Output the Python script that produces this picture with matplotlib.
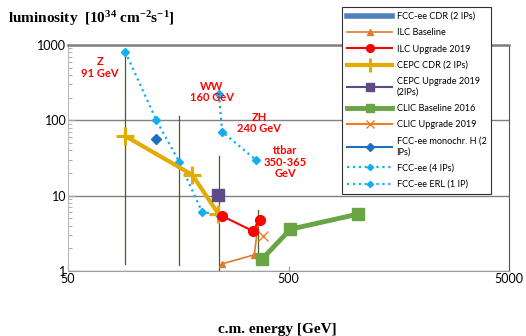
import matplotlib
matplotlib.use("Agg")
import matplotlib.pyplot as plt
from matplotlib.ticker import FixedLocator, NullFormatter, LogLocator, NullLocator

plt.rcParams['font.family'] = ['Lato', 'DejaVu Sans']
plt.rcParams['mathtext.default'] = 'regular'

# energies in GeV, luminosity in 1e34 cm^-2 s^-1
fcc_cdr_e = []
fcc_cdr_l = []
ilc_base_e = [250, 350, 365]
ilc_base_l = [1.25, 1.65, 4.5]
ilc_upg_e = [250, 345, 370]
ilc_upg_l = [5.4, 3.4, 4.8]
cepc_e = [91, 183, 240]
cepc_l = [62, 19, 5.8]
cepc_upg_e = [240]
cepc_upg_l = [10.2]
clic_base_e = [380, 510, 1030]
clic_base_l = [1.45, 3.6, 5.7]
clic_upg_e = [385]
clic_upg_l = [2.9]
fcc_h_e = [126]
fcc_h_l = [56]
fcc4_e = [91, 126, 160, 203, 243]
fcc4_l = [815, 100, 28, 6.1, 5.5]
erl_e = [242, 250, 355]
erl_l = [222, 71, 30]

# energy marker lines: energy, top, bottom
vline_e = [91, 160, 243, 365]
vline_top = [800, 114, 34, 6.4]
vline_bot = [1.25, 1.2, 1.0, 1.2]

labels = ['Z\n91 GeV', 'WW\n160 GeV', 'ZH\n240 GeV', 'ttbar\n350-365\nGeV']
label_e = [70, 224, 369, 484]
label_l = [500, 238, 92, 28]

fig = plt.figure(figsize=(5.26, 3.36), dpi=100)
ax = fig.add_axes([0.129, 0.193, 0.839, 0.673])
ax.set_xscale('log')
ax.set_yscale('log')
ax.set_xlim(50, 5000)
ax.set_ylim(1, 1000)

for e, t, b in zip(vline_e, vline_top, vline_bot):
    ax.plot([e, e], [b, t], color='#44612a', lw=0.9, zorder=2)

ax.plot(fcc_cdr_e, fcc_cdr_l, color='#4f81bd', lw=4, label='FCC-ee CDR (2 IPs)')
ax.plot(ilc_base_e, ilc_base_l, color='#e07a30', lw=1.2, marker='^', ms=5,
        label='ILC Baseline', zorder=4)
ax.plot(ilc_upg_e, ilc_upg_l, color='red', lw=1.5, marker='o', ms=7,
        label='ILC Upgrade 2019', zorder=5)
ax.plot(cepc_e, cepc_l, color='#e3ac00', lw=3, marker='+', ms=13, mew=2.2,
        label='CEPC CDR (2 IPs)', zorder=4)
ax.plot(cepc_upg_e, cepc_upg_l, color='#5d4a86', lw=1.5, marker='s', ms=8,
        label='CEPC Upgrade 2019\n(2IPs)', zorder=5)
ax.plot(clic_base_e, clic_base_l, color='#6aa545', lw=3.5, marker='s', ms=8,
        label='CLIC Baseline 2016', zorder=4)
ax.plot(clic_upg_e, clic_upg_l, color='#f07c28', lw=1.5, marker='x', ms=7, mew=1,
        label='CLIC Upgrade 2019', zorder=4)
ax.plot(fcc_h_e, fcc_h_l, color='#1f6fc0', lw=1.5, marker='D', ms=5,
        label='FCC-ee monochr. H (2\nIPs)', zorder=4)
ax.plot(fcc4_e, fcc4_l, color='#13aef0', lw=1.6, ls=':', marker='D', ms=4,
        label='FCC-ee (4 IPs)', zorder=3)
ax.plot(erl_e, erl_l, color='#13aef0', lw=1.6, ls=':', marker='D', ms=4,
        label='FCC-ee ERL (1 IP)', zorder=3)

for t, e, l in zip(labels, label_e, label_l):
    ax.text(e, l, t, color='red', fontsize=8, fontweight='bold', ha='center',
            va='center', linespacing=1.05)

ax.yaxis.grid(True, which='major', color='#808080', lw=1)
ax.set_axisbelow(True)
ax.xaxis.set_major_locator(FixedLocator([50, 500, 5000]))
ax.xaxis.set_minor_locator(NullLocator())
ax.set_xticklabels(['50', '500', '5000'])
ax.yaxis.set_major_locator(FixedLocator([1, 10, 100, 1000]))
ax.yaxis.set_minor_locator(LogLocator(base=10, subs=range(2, 10)))
ax.yaxis.set_minor_formatter(NullFormatter())
ax.set_yticklabels(['1', '10', '100', '1000'])
ax.tick_params(axis='both', which='both', direction='in', colors='#a0a0a0',
               labelcolor='black', labelsize=9, pad=1)
ax.tick_params(axis='y', which='minor', length=3)
ax.tick_params(axis='y', which='major', length=5)

ax.spines['top'].set_color('#808080')
ax.spines['top'].set_linewidth(1.8)
ax.spines['right'].set_color('#555555')
ax.spines['bottom'].set_color('#a0a0a0')
ax.spines['left'].set_color('#b8b8b8')

leg = ax.legend(loc='upper left', bbox_to_anchor=(342 / 526, 1 - 7 / 336),
                bbox_transform=fig.transFigure, fontsize=6.6, frameon=True,
                fancybox=False, edgecolor='#333333', framealpha=1,
                handlelength=4.9, labelspacing=0.8, borderpad=0.55,
                handletextpad=0.5, borderaxespad=0, markerscale=0.8)
leg.get_frame().set_linewidth(0.8)
leg.set_zorder(10)

fig.text(0.015, 1 - 19 / 336, 'luminosity  [10$^{34}$ cm$^{-2}$s$^{-1}$]',
         family='Liberation Serif', fontweight='bold', fontsize=11, va='center')
fig.text(277 / 526, 6 / 336, 'c.m. energy [GeV]', family='Liberation Serif',
         fontweight='bold', fontsize=11, ha='center', va='center')

fig.savefig('out.png', dpi=100)
